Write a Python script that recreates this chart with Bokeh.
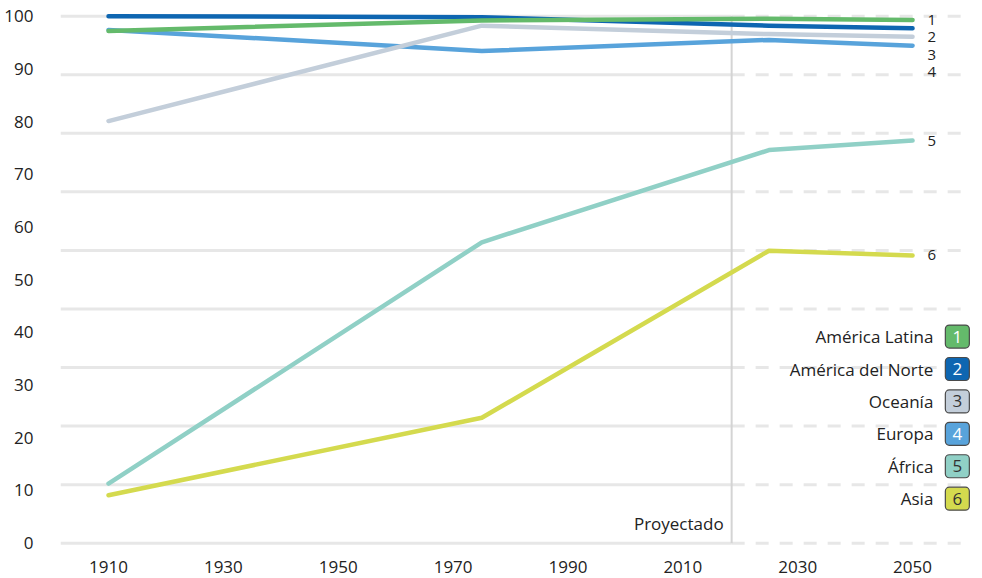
from bokeh.plotting import figure
from bokeh.models import Range1d, FixedTicker, Label
from bokeh.core.properties import value
from bokeh.embed import file_html
from bokeh.resources import INLINE

# ---------------- data ----------------
years = [1910, 1975, 2025, 2050]
america_latina = [97.2, 99.2, 99.5, 99.3]
america_norte = [100.0, 99.8, 98.2, 97.7]
oceania = [80.1, 98.2, 96.6, 96.1]
europa = [97.4, 93.4, 95.5, 94.4]
africa = [11.3, 57.1, 74.6, 76.4]
asia = [9.1, 23.8, 55.5, 54.6]

regions = ["América Latina", "América del Norte", "Oceanía", "Europa", "África", "Asia"]
numbers = ["1", "2", "3", "4", "5", "6"]
series = [america_latina, america_norte, oceania, europa, africa, asia]

x_ticks = [1910, 1930, 1950, 1970, 1990, 2010, 2030, 2050]
y_ticks = [0, 10, 20, 30, 40, 50, 60, 70, 80, 90, 100]
proj_year = 2018.5
proj_label = "Proyectado"

# ---------------- style ----------------
colors = ["#64ba6b", "#0e66b1", "#c3ceda", "#58a3db", "#90d0c6", "#d4da4e"]
number_colors = ["white", "white", "#333333", "white", "#333333", "#333333"]
FONT = "Open Sans"
TEXT = "#222222"
GRID = "#e7e7e7"
x_start, x_end = 1901.64, 2062.18
y_start, y_end = -0.63, 101.08
grid_end = 2058.9
n_grid = 9
legend_x = 2057.8
legend_top = 39.2
legend_step = 6.15
label_gap = 3.3

p = figure(width=982, height=578,
           x_range=Range1d(x_start, x_end), y_range=Range1d(y_start, y_end),
           output_backend="svg", toolbar_location=None,
           min_border_left=60, min_border_right=0, min_border_top=10, min_border_bottom=32)
p.outline_line_color = None
p.xgrid.visible = False
p.ygrid.visible = False

# grid lines: solid before projection, dashed after
grid_levels = [100 * i / n_grid for i in range(n_grid + 1)]
p.segment(x0=[x_start] * len(grid_levels), y0=grid_levels,
          x1=[proj_year] * len(grid_levels), y1=grid_levels,
          line_color=GRID, line_width=3)
p.segment(x0=[proj_year] * len(grid_levels), y0=grid_levels,
          x1=[grid_end] * len(grid_levels), y1=grid_levels,
          line_color=GRID, line_width=3, line_dash="13 11")

# projection marker
p.segment(x0=[proj_year], y0=[0], x1=[proj_year], y1=[100],
          line_color="#d4d4d4", line_width=2)
p.add_layout(Label(x=proj_year, y=0, x_offset=-8, y_offset=19.5, text=proj_label,
                   text_align="right", text_baseline="middle",
                   text_font=FONT, text_font_size="17px", text_color=TEXT))

# lines (draw bottom ones first)
for vals, col in reversed(list(zip(series, colors))):
    p.line(years, vals, line_color=col, line_width=4.5,
           line_join="round", line_cap="round")

# end labels with simple push-down to avoid overlap
ends = [s[-1] for s in series]
order = sorted(range(len(ends)), key=lambda i: -ends[i])
label_y = [0.0] * len(ends)
prev = None
for i in order:
    yv = ends[i] if prev is None else min(ends[i], prev - label_gap)
    label_y[i] = yv
    prev = yv
p.text(x=[years[-1]] * len(numbers), y=label_y, text=numbers,
       x_offset=15, text_align="left", text_baseline="middle",
       text_font=value(FONT), text_font_size="15px", text_color=TEXT)

# legend (right, bottom)
row_y = [legend_top - i * legend_step for i in range(len(regions))]
rect_kw = dict(x=[legend_x] * len(regions), y=row_y, width=24, height=23,
               width_units="screen", height_units="screen",
               fill_color=colors, line_color="#4a4a4a", line_width=1.2)
try:
    p.rect(border_radius=4, **rect_kw)
except Exception:
    p.rect(**rect_kw)
p.text(x=[legend_x] * len(regions), y=row_y, text=numbers,
       text_align="center", text_baseline="middle",
       text_font=value(FONT), text_font_size="17px", text_color=number_colors)
p.text(x=[legend_x] * len(regions), y=row_y, text=regions, x_offset=-24,
       text_align="right", text_baseline="middle",
       text_font=value(FONT), text_font_size="17px", text_color=TEXT)

# axes
for ax in (p.xaxis[0], p.yaxis[0]):
    ax.axis_line_color = None
    ax.major_tick_line_color = None
    ax.minor_tick_line_color = None
    ax.major_label_text_font = FONT
    ax.major_label_text_font_size = "17px"
    ax.major_label_text_color = TEXT
p.xaxis.ticker = FixedTicker(ticks=x_ticks)
p.yaxis.ticker = FixedTicker(ticks=y_ticks)
p.xaxis.major_label_standoff = 8
p.yaxis.major_label_standoff = 21

open("out.html", "w").write(file_html(p, INLINE))
